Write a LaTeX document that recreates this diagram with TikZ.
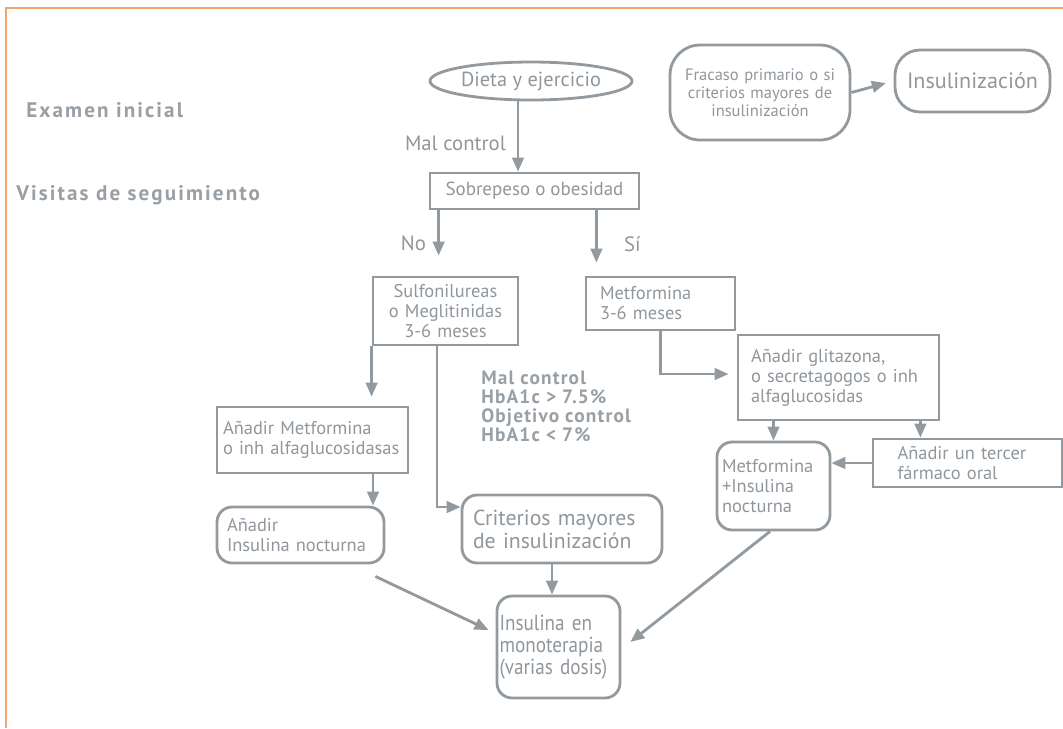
\documentclass[tikz,border=0pt]{standalone}
\usepackage{fontspec}
\setmainfont{PT Sans}
\newfontfamily\narrowfont[FakeStretch=0.88]{PT Sans}
\newfontfamily\rowfont[LetterSpace=10]{PT Sans}
\newfontfamily\hbafont[LetterSpace=6]{PT Sans}
\usepackage{tikz}
\usetikzlibrary{arrows.meta, positioning, calc, shapes.geometric}
\definecolor{linegray}{RGB}{146,153,159}
\definecolor{txtgray}{RGB}{143,150,156}
\definecolor{lblgray}{RGB}{152,159,165}
\definecolor{frameorange}{RGB}{241,164,112}
\hyphenpenalty=10000
\tikzset{
    box/.style={
        rectangle,
        draw=linegray,
        line width=1.6pt,
        text=txtgray,
        align=left,
        inner ysep=0pt,
        font=\fontsize{10.5}{11.4}\selectfont
    },
    rbox/.style={box, rounded corners=0.3cm},
    trans/.style={
        -{Triangle[length=2.8mm, width=2.3mm]},
        line width=1.6pt,
        draw=linegray
    }
}
\begin{document}
\begin{tikzpicture}[
    x=0.02cm, y=-0.02cm,
    lbl/.style={
        text=txtgray,
        inner sep=1pt,
        font=\fontsize{11.8}{12}\selectfont
    },
    rowlbl/.style={
        text=lblgray,
        inner sep=0pt,
        font=\rowfont\bfseries\fontsize{12}{13}\selectfont
    },
    frame/.style={draw=frameorange, line width=1.1pt}
]
\useasboundingbox (0,0) rectangle (1063,728);
\draw[frame] (6,728) -- (6,8) -- (1063,8);

\node[rowlbl, anchor=west] (examen) at (26,110) {Examen inicial};
\node[rowlbl, anchor=west] (visitas) at (16,195) {Visitas de seguimiento};

\node[ellipse, draw=linegray, line width=1.6pt, text=txtgray, inner sep=0pt,
    minimum width=4.04cm, minimum height=0.76cm,
    font=\fontsize{11.6}{12}\selectfont] (dieta) at (531,81) {Dieta y ejercicio};
\node[box, align=center, minimum width=4.18cm, minimum height=0.72cm,
    font=\fontsize{10.8}{11.6}\selectfont] (sobre) at (534.5,191) {Sobrepeso o obesidad};

\node[box, align=center, text width=2.7cm, inner xsep=0.1cm, minimum height=1.36cm] (sulf) at (445.5,311)
    {Sulfonilureas\\o Meglitinidas\\3-6 meses};
\node[box, text width=2.42cm, inner xsep=0.28cm, minimum height=1.06cm] (metf) at (660.5,303.5)
    {Metformina\\3-6 meses};
\node[box, text width=3.5cm, inner xsep=0.26cm, minimum height=1.7cm] (glit) at (838.5,377.5)
    {Añadir glitazona,\\o secretagogos o inh\\alfaglucosidas};
\node[box, text width=3.58cm, inner xsep=0.12cm, minimum height=1.32cm] (anmet) at (312.5,440)
    {Añadir Metformina\\o inh alfaglucosidasas};
\node[rbox, text width=2.94cm, inner xsep=0.2cm, minimum height=1.12cm] (annoc) at (300.5,535)
    {Añadir\\Insulina nocturna};
\node[rbox, text width=3.56cm, inner xsep=0.22cm, minimum height=1.36cm,
    font=\fontsize{12.4}{13.2}\selectfont] (crit) at (562,529)
    {Criterios mayores\\de insulinización};
\node[rbox, text width=2.36cm, inner xsep=0.05cm, minimum height=2.04cm,
    font=\narrowfont\fontsize{12.4}{12.4}\selectfont] (mono) at (558.5,647)
    {Insulina en\\monoterapia\\(varias dosis)};
\node[rbox, text width=2.06cm, inner xsep=0.1cm, minimum height=1.76cm] (metins) at (773.5,486)
    {Metformina\\+Insulina\\nocturna};
\node[box, text width=2.8cm, inner xsep=0.49cm, minimum height=0.96cm] (tercer) at (967.5,463)
    {Añadir un tercer\\fármaco oral};

\node[box, rounded corners=0.6cm, align=center, text width=3.3cm, inner xsep=0.15cm, minimum height=1.9cm,
    font=\fontsize{9.4}{10.2}\selectfont] (fracaso) at (760,92.5)
    {Fracaso primario o si\\criterios mayores de\\insulinización};
\node[box, rounded corners=0.5cm, align=center, minimum width=3.1cm, minimum height=1.24cm,
    font=\fontsize{12.6}{13}\selectfont] (insul) at (972.5,81) {Insulinización};

\node[lbl, anchor=east] (malc) at (508,143) {Mal control};
\node[lbl, anchor=east] (no) at (428,243) {No};
\node[lbl, anchor=west] (si) at (622,244) {Sí};
\node[rowlbl, anchor=north west, align=left, font=\hbafont\bfseries\fontsize{11}{10.8}\selectfont] (hba) at (481,371)
    {Mal control\\HbA1c > 7.5\%\\Objetivo control\\HbA1c < 7\%};

\draw[trans] ([xshift=-0.26cm]dieta.south) -- ([xshift=-0.26cm]dieta.south |- sobre.north);
\draw[trans, shorten >=0.4cm] ([xshift=0.2cm]sobre.south west) -- ([xshift=0.2cm]sobre.south west |- sulf.north);
\draw[trans, shorten >=0.26cm] ([xshift=-0.88cm]sobre.south east) -- ([xshift=-0.88cm]sobre.south east |- metf.north);
\draw[trans, shorten >=0.18cm] (sulf.south west) -- (sulf.south west |- anmet.north);
\draw[trans] ([xshift=-0.17cm]sulf.south) |- ([yshift=0.44cm]crit.west);
\draw[trans] ([xshift=1.21cm]anmet.south) -- ([xshift=1.21cm]anmet.south |- annoc.north);
\draw[trans] ([xshift=-0.2cm, yshift=-0.24cm]annoc.south east) -- ([xshift=-0.14cm, yshift=0.34cm]mono.west);
\draw[trans] ([xshift=-0.2cm]crit.south) -- ([xshift=-0.2cm]crit.south |- mono.north);
\draw[trans] ([xshift=-0.07cm]metins.south) -- ([xshift=0.18cm, yshift=0.1cm]mono.east);
\draw[trans, shorten >=0.16cm] (metf.south) |- ([yshift=0.07cm]glit.west);
\draw[trans] (glit.south -| metins.north) -- (metins.north);
\draw[trans] ([xshift=-0.4cm]glit.south east) -- ([xshift=-0.4cm]glit.south east |- tercer.north);
\draw[trans] (tercer.west) -- (tercer.west -| metins.east);
\draw[trans, shorten >=0.16cm] (fracaso.east) -- (insul.west);

\end{tikzpicture}
\end{document}
